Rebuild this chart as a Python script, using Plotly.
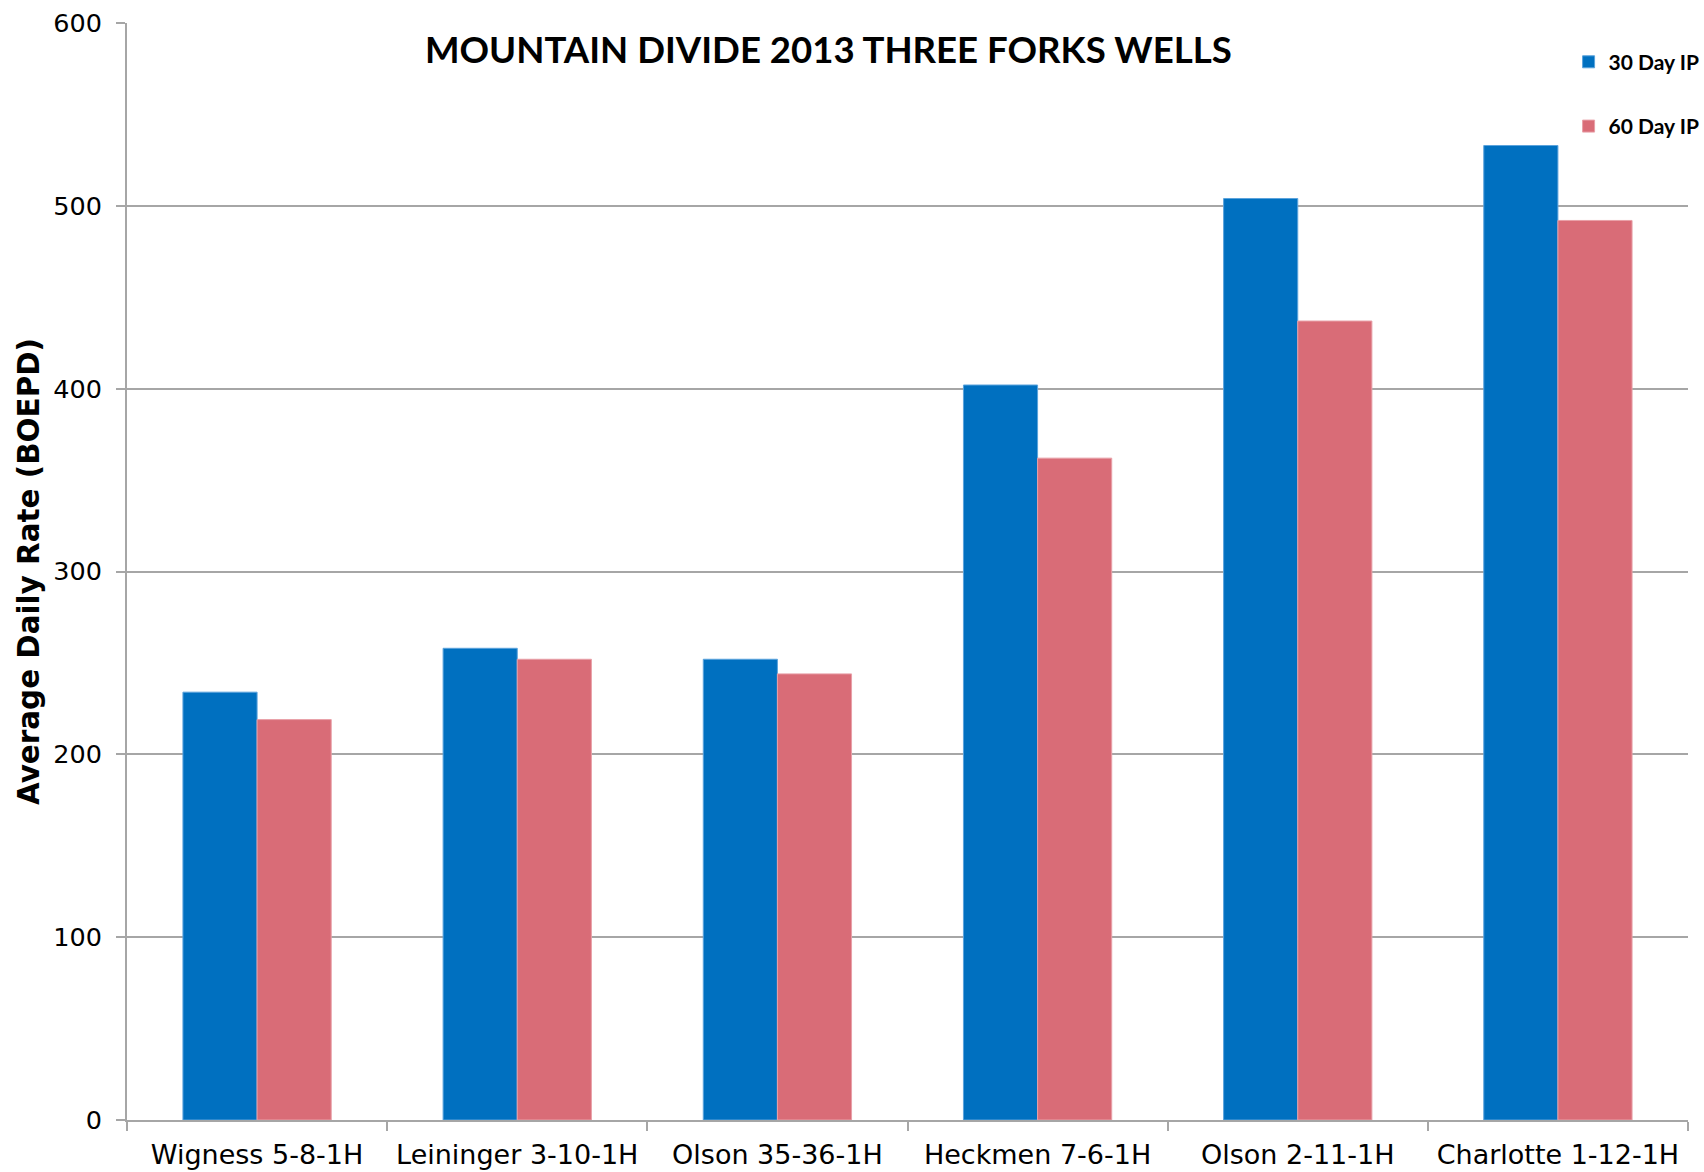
import plotly.graph_objects as go

wells = ["Wigness 5-8-1H", "Leininger 3-10-1H", "Olson 35-36-1H",
         "Heckmen 7-6-1H", "Olson 2-11-1H", "Charlotte 1-12-1H"]
ip30 = [234, 258, 252, 402, 504, 533]
ip60 = [219, 252, 244, 362, 437, 492]
y_ticks = [0, 100, 200, 300, 400, 500, 600]

BLUE = "#0070C0"
PINK = "#D96C77"
GRID = "#A6A6A6"

fig = go.Figure()
fig.add_trace(go.Bar(x=wells, y=ip30, name="30 Day IP", marker_color=BLUE,
                     marker_line=dict(color="#5BA3DC", width=1), legendgroup="a"))
fig.add_trace(go.Bar(x=wells, y=ip60, name="60 Day IP", marker_color=PINK,
                     marker_line=dict(color="#E8A0A8", width=1), legendgroup="b"))

fig.update_layout(
    width=1704, height=1172,
    margin=dict(l=127, r=16, t=23, b=52, autoexpand=False),
    paper_bgcolor="white", plot_bgcolor="white",
    barmode="group", bargap=0.43, bargroupgap=0,
    font=dict(family="DejaVu Sans", size=25, color="black"),
    showlegend=True,
    legend=dict(x=0.9235, y=0.983, xanchor="left", yanchor="top",
                font=dict(family="Lato", size=21, color="black", weight="bold"),
                tracegroupgap=34, traceorder="grouped",
                bgcolor="rgba(0,0,0,0)"),
    annotations=[dict(text="<b>MOUNTAIN DIVIDE 2013 THREE FORKS WELLS</b>",
                      xref="paper", yref="paper", x=(828 - 127) / 1561, y=1 - (49 - 23) / 1097,
                      xanchor="center", yanchor="middle", showarrow=False,
                      font=dict(family="Lato", size=36.6, color="black"))],
)
fig.update_xaxes(
    showline=True, linecolor=GRID, linewidth=2,
    ticks="outside", tickson="boundaries", ticklen=9, tickcolor=GRID, tickwidth=2,
    showgrid=False, tickfont=dict(family="DejaVu Sans", size=27),
    ticklabelstandoff=10, automargin=False,
)
fig.update_yaxes(
    range=[0, 600], tickvals=y_ticks, ticktext=[str(v) for v in y_ticks],
    showline=True, linecolor=GRID, linewidth=2,
    ticks="outside", ticklen=9, tickcolor=GRID, tickwidth=2,
    showgrid=True, gridcolor=GRID, gridwidth=2, zeroline=False,
    tickfont=dict(family="DejaVu Sans", size=25.5),
    ticklabelstandoff=9, automargin=False,
    title=dict(text="<b>Average Daily Rate (BOEPD)</b>", standoff=5,
               font=dict(family="DejaVu Sans", size=29.4)),
)

fig.write_html("out.html", config={"displayModeBar": False},
               post_script="document.body.style.margin='0';")
